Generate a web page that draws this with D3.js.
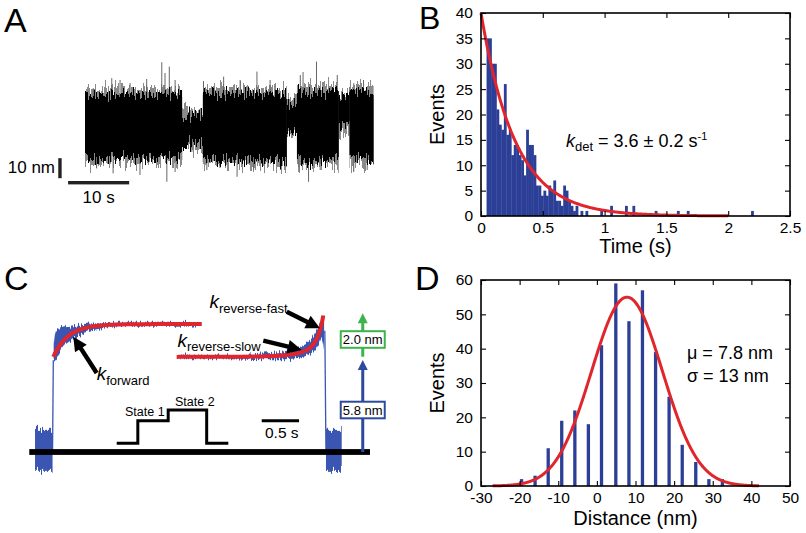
<!DOCTYPE html>
<html><head><meta charset="utf-8">
<script src="https://cdn.jsdelivr.net/npm/d3@7"></script>
<style>
html,body{margin:0;padding:0;background:#fff;}
svg{display:block;font-family:"Liberation Sans",Arial,Helvetica,sans-serif;}
</style></head><body>
<svg id="fig" width="806" height="533"></svg>
<script>
// ---------------- DATA ----------------
// Panel A: single-molecule trace, described by state segments (s, nm) and excursions
const aSegStart = [0, 15.85, 19.3, 33.0, 34.7, 41.5, 43.3];
const aSegEnd   = [15.85, 19.3, 33.0, 34.7, 41.5, 43.3, 47.2];
const aSegHi    = [16.5, 6, 17, 11.5, 18, 15, 17.5];
const aSegLo    = [-15.5, -8.5, -16.5, -2.5, -16.5, 0.5, -16.5];
const aSpikeT   = [1.36, 4.38, 5.74, 7.38, 10.1, 12.57, 13.1, 13.8, 14.75, 18.2, 19.4, 22.7, 25.4, 28.15, 30.3, 35.25, 35.7, 37.9, 41.3, 44.0, 45.6,
                   1.9, 4.6, 9.0, 13.4, 14.75, 17.5, 19.95, 22.1, 24.9, 27.6, 32.0, 35.0, 36.6, 38.5, 44.0, 46.2];
const aSpikeNm  = [19.4, 24.4, 23.5, 22, 24, 32.4, 27, 30.2, 23.5, 7.7, 23, 25.2, 23.5, 27.7, 23.5, 26, 27.5, 32.7, 26, 21.9, 23.5,
                   -20.7, -23.2, -24, -27.4, -22.5, -12.4, -21.5, -20.5, -24.9, -21.5, -21.5, -22.5, -27.4, -21.5, -22.5, -21.5];

// Panel B: detachment-time histogram (bin start in s, counts), bin width 0.02 s
const bBinWidth = 0.02;
const bStart = [0.045,0.065,0.085,0.105,0.125,0.145,0.165,0.185,0.205,0.225,
                0.245,0.265,0.285,0.305,0.325,0.345,0.365,0.385,0.405,0.425,
                0.445,0.465,0.485,0.505,0.525,0.545,0.565,0.585,0.605,0.625,
                0.645,0.665,0.685,0.705,0.725,0.745,0.765,0.805,0.845,0.965,
                1.045,1.165,1.225,1.405,1.585,1.665,2.185];
const bCount = [35,35,30,30,21,18,17,26,16,17,
                12,14,14,12,11,8,17,14,14,12,
                6,6,4,5,4,6,5,7,3,3,
                2,6,5,3,2,1,2,1,1,1,
                2,2,2,1,1,1,1];
const bFitAmp = 40, bFitRate = 3.6, bFitEnd = 2.0;
const bXTicks = [0, 0.5, 1, 1.5, 2, 2.5];
const bXTickLabels = ["0", "0.5", "1", "1.5", "2", "2.5"];
const bYTicks = [0, 5, 10, 15, 20, 25, 30, 35, 40];
const bYTickLabels = ["0", "5", "10", "15", "20", "25", "30", "35", "40"];

// Panel C: averaged traces (envelopes in nm vs s) and fits
const c1T  = [0.005, 0.03, 0.06, 0.1, 0.15, 0.25, 0.4, 0.6, 0.9, 1.3, 1.95];
const c1Lo = [5.5, 5.6, 5.8, 6.2, 6.5, 6.85, 7.25, 7.5, 7.68, 7.7, 7.72];
const c1Hi = [6.4, 7.3, 7.5, 7.55, 7.6, 7.65, 7.8, 7.85, 7.88, 7.88, 7.87];
const c2T  = [1.7, 2.4, 2.8, 3.1, 3.3, 3.45, 3.55, 3.6, 3.63];
const c2Lo = [5.72, 5.72, 5.66, 5.66, 5.75, 6.0, 6.5, 7.0, 6.2];
const c2Hi = [5.88, 5.9, 6.0, 6.15, 6.4, 6.85, 7.6, 8.1, 8.3];
const cBaseNoiseT = [[-0.245, -0.01], [3.655, 3.866]];
const cBaseNoiseNm = [-1.15, 1.35];
const cFwd = {level: 7.8, amp: 2.0, rate: 5, t0: 0, t1: 1.99};
const cRev = {level: 5.8, ampSlow: 0.8, rateSlow: 4, ampFast: 1.75, rateFast: 13, t0: 1.654, tEnd: 3.62};
const cStepT  = [0.85, 1.133, 1.133, 1.54, 1.54, 2.056, 2.056, 2.346];
const cStepNm = [0.53, 0.53, 1.9, 1.9, 2.56, 2.56, 0.53, 0.53];
const cStepLabels = ["State 1", "State 2"];
const cSizes = ["5.8 nm", "2.0 nm"];

// Panel D: distance histogram
const dCenters = [-19.5,-16.0,-12.6,-9.1,-5.7,-2.2,1.2,4.9,8.3,11.8,15.2,18.7,22.1,25.6,29.0,32.5];
const dCounts  = [2,3,11,19,22,18,41,59,48,57,39,26,12,7,2,2];
const dFit = {amp: 55, mu: 7.8, sigma: 9.2, from: -27, to: 42};
const dXTicks = [-30,-20,-10,0,10,20,30,40,50];
const dXTickLabels = ["-30","-20","-10","0","10","20","30","40","50"];
const dYTicks = [0,10,20,30,40,50,60];
const dYTickLabels = ["0","10","20","30","40","50","60"];

// ---------------- STYLE ----------------
const FONT = '"Liberation Sans", Arial, Helvetica, sans-serif';
const HBLUE = "#2c3f97", TBLUE = "#3a55b2", RED = "#e0262c", GREEN = "#3cb44b";

const svg = d3.select("#fig");
svg.append("rect").attr("width", 806).attr("height", 533).attr("fill", "#fff");
const defs = svg.append("defs");
function jag(id, freq, scale, seed) {
  const f = defs.append("filter").attr("id", id)
    .attr("x", "-5%").attr("y", "-60%").attr("width", "110%").attr("height", "220%")
    .attr("color-interpolation-filters", "sRGB");
  f.append("feTurbulence").attr("type", "fractalNoise").attr("baseFrequency", freq)
    .attr("numOctaves", 2).attr("seed", seed).attr("result", "n");
  f.append("feColorMatrix").attr("in", "n").attr("type", "matrix")
    .attr("values", "0 0 0 0 0.5  0 1 0 0 0  0 0 1 0 0  0 0 0 0 1").attr("result", "m");
  f.append("feDisplacementMap").attr("in", "SourceGraphic").attr("in2", "m")
    .attr("scale", scale).attr("xChannelSelector", "R").attr("yChannelSelector", "G");
}
jag("jagA", "0.75 0.002", 30, 7);
jag("jagA2", "0.6 0.002", 34, 19);
jag("jagC", "0.8 0.002", 9, 3);
jag("jagC2", "0.8 0.002", 22, 11);

function letter(t, x, y, fs) {
  svg.append("text").text(t).attr("x", x).attr("y", y).attr("font-size", fs)
    .attr("font-family", FONT).attr("fill", "#000");
}
letter("A", 4, 32, 34); letter("B", 419, 29, 32); letter("C", 4, 290, 34); letter("D", 415, 290, 34);

// ---------------- PANEL A ----------------
{
  const xA = d3.scaleLinear().domain([0, 47.2]).range([85, 373.3]);
  const yA = d3.scaleLinear().domain([0, 10]).range([127, 107]);
  const segs = d3.range(aSegStart.length).map(i => ({t0: aSegStart[i], t1: aSegEnd[i], hi: aSegHi[i], lo: aSegLo[i]}));
  const g = svg.append("g");
  g.append("g").attr("filter", "url(#jagA2)").selectAll("rect").data(segs).join("rect")
    .attr("x", d => xA(d.t0)).attr("width", d => xA(d.t1) - xA(d.t0) + 0.3)
    .attr("y", d => yA(d.hi + 2.5)).attr("height", d => yA(d.lo - 2.5) - yA(d.hi + 2.5))
    .attr("fill", "#8a8a8a");
  g.append("g").selectAll("line").data(d3.zip(aSpikeT, aSpikeNm)).join("line")
    .attr("x1", d => xA(d[0])).attr("x2", d => xA(d[0]))
    .attr("y1", yA(0)).attr("y2", d => yA(d[1]))
    .attr("stroke", "#666").attr("stroke-width", 1);
  g.append("g").attr("filter", "url(#jagA)").selectAll("rect").data(segs).join("rect")
    .attr("x", d => xA(d.t0)).attr("width", d => xA(d.t1) - xA(d.t0) + 0.3)
    .attr("y", d => yA(d.hi)).attr("height", d => yA(d.lo) - yA(d.hi))
    .attr("fill", "#000");
  // scale bars: 10 nm and 10 s
  g.append("rect").attr("x", xA(-4.1) - 1.7).attr("width", 3.4)
    .attr("y", yA(-15.6)).attr("height", yA(-25.6) - yA(-15.6)).attr("fill", "#222");
  g.append("rect").attr("x", xA(-2.77)).attr("width", xA(10) - xA(0))
    .attr("y", yA(-27.85) - 1.7).attr("height", 3.4).attr("fill", "#222");
  g.append("text").text("10 nm").attr("x", 55).attr("y", 173).attr("text-anchor", "end")
    .attr("font-size", 17).attr("font-family", FONT);
  g.append("text").text("10 s").attr("x", xA(2.23)).attr("y", 202.5).attr("text-anchor", "middle")
    .attr("font-size", 17).attr("font-family", FONT);
}

// ---------------- shared axes frame ----------------
function frameAxes(g, x, y, xt, xl, yt, yl) {
  const [x0, x1] = x.range(), [y0, y1] = y.range();
  const style = s => {
    s.select(".domain").remove();
    s.selectAll(".tick line").attr("stroke", "#000").attr("stroke-width", 1.1);
    s.selectAll(".tick text").attr("font-size", 15.5).attr("font-family", FONT).attr("fill", "#000");
  };
  g.append("g").attr("transform", `translate(0,${y0})`)
    .call(d3.axisBottom(x).tickValues(xt).tickSizeInner(-5).tickSizeOuter(0).tickPadding(5.5).tickFormat((d, i) => xl[i])).call(style);
  g.append("g").attr("transform", `translate(0,${y1})`)
    .call(d3.axisTop(x).tickValues(xt).tickSizeInner(-5).tickSizeOuter(0).tickFormat("")).call(style);
  g.append("g").attr("transform", `translate(${x0},0)`)
    .call(d3.axisLeft(y).tickValues(yt).tickSizeInner(-5).tickSizeOuter(0).tickPadding(8).tickFormat((d, i) => yl[i])).call(style);
  g.append("g").attr("transform", `translate(${x1},0)`)
    .call(d3.axisRight(y).tickValues(yt).tickSizeInner(-5).tickSizeOuter(0).tickFormat("")).call(style);
  g.append("rect").attr("x", x0).attr("y", y1).attr("width", x1 - x0).attr("height", y0 - y1)
    .attr("fill", "none").attr("stroke", "#000").attr("stroke-width", 1.6);
}

// ---------------- PANEL B ----------------
{
  const xB = d3.scaleLinear().domain([0, 2.5]).range([481, 790]);
  const yB = d3.scaleLinear().domain([0, 40]).range([216, 13]);
  const g = svg.append("g");
  const bw = xB(bBinWidth) - xB(0);
  g.append("g").selectAll("rect").data(d3.zip(bStart, bCount)).join("rect")
    .attr("x", d => xB(d[0])).attr("width", bw + 0.35)
    .attr("y", d => yB(d[1])).attr("height", d => yB(0) - yB(d[1]))
    .attr("fill", HBLUE);
  const fitPts = d3.range(0, bFitEnd + 1e-9, 0.005).map(t => [t, bFitAmp * Math.exp(-bFitRate * t)]);
  g.append("path").attr("d", d3.line().x(d => xB(d[0])).y(d => yB(d[1]))(fitPts))
    .attr("fill", "none").attr("stroke", RED).attr("stroke-width", 3);
  frameAxes(g, xB, yB, bXTicks, bXTickLabels, bYTicks, bYTickLabels);
  g.append("text").text("Events").attr("transform", "translate(444,114.5) rotate(-90)")
    .attr("text-anchor", "middle").attr("font-size", 20).attr("font-family", FONT);
  g.append("text").text("Time (s)").attr("x", 635.5).attr("y", 253)
    .attr("text-anchor", "middle").attr("font-size", 20).attr("font-family", FONT);
  const t = g.append("text").attr("x", 566).attr("y", 147).attr("font-size", 18).attr("font-family", FONT);
  t.append("tspan").text("k").attr("font-style", "italic");
  t.append("tspan").text("det").attr("font-size", 13).attr("dy", 4);
  t.append("tspan").text(" = 3.6 \u00B1 0.2 s").attr("dy", -4);
  t.append("tspan").text("-1").attr("font-size", 11).attr("dy", -7);
}

// ---------------- PANEL D ----------------
{
  const xD = d3.scaleLinear().domain([-30, 50]).range([481, 790]);
  const yD = d3.scaleLinear().domain([0, 60]).range([486, 280]);
  const g = svg.append("g");
  const barW = 3.3;
  g.append("g").selectAll("rect").data(d3.zip(dCenters, dCounts)).join("rect")
    .attr("x", d => xD(d[0]) - barW / 2).attr("width", barW)
    .attr("y", d => yD(d[1])).attr("height", d => yD(0) - yD(d[1]))
    .attr("fill", HBLUE);
  const gp = d3.range(dFit.from, dFit.to + 1e-9, 0.1)
    .map(x => [x, dFit.amp * Math.exp(-((x - dFit.mu) ** 2) / (2 * dFit.sigma ** 2))]);
  g.append("path").attr("d", d3.line().x(d => xD(d[0])).y(d => yD(d[1]))(gp))
    .attr("fill", "none").attr("stroke", RED).attr("stroke-width", 3);
  frameAxes(g, xD, yD, dXTicks, dXTickLabels, dYTicks, dYTickLabels);
  g.append("text").text("Events").attr("transform", "translate(444,383) rotate(-90)")
    .attr("text-anchor", "middle").attr("font-size", 20).attr("font-family", FONT);
  g.append("text").text("Distance (nm)").attr("x", 635.5).attr("y", 525)
    .attr("text-anchor", "middle").attr("font-size", 20).attr("font-family", FONT);
  g.append("text").text("\u03BC = 7.8 nm").attr("x", 687).attr("y", 359).attr("font-size", 18).attr("font-family", FONT);
  g.append("text").text("\u03C3 = 13 nm").attr("x", 687).attr("y", 382).attr("font-size", 18).attr("font-family", FONT);
}

// ---------------- PANEL C ----------------
{
  const xC = d3.scaleLinear().domain([0, 1]).range([53.3, 127.9]);
  const yC = d3.scaleLinear().domain([0, 10]).range([452, 288]);
  const g = svg.append("g");
  // baseline noise
  g.append("g").attr("filter", "url(#jagC2)").selectAll("rect").data(cBaseNoiseT).join("rect")
    .attr("x", d => xC(d[0])).attr("width", d => xC(d[1]) - xC(d[0]))
    .attr("y", yC(cBaseNoiseNm[1])).attr("height", yC(cBaseNoiseNm[0]) - yC(cBaseNoiseNm[1]))
    .attr("fill", TBLUE);
  // transitions
  g.append("line").attr("x1", xC(-0.01)).attr("x2", xC(0.0)).attr("y1", yC(0)).attr("y2", yC(5.6))
    .attr("stroke", TBLUE).attr("stroke-width", 1.3);
  g.append("line").attr("x1", xC(3.64)).attr("x2", xC(3.655)).attr("y1", yC(7.4)).attr("y2", yC(0))
    .attr("stroke", TBLUE).attr("stroke-width", 1.3);
  // trace envelopes
  const area = d3.area().x(d => xC(d[0])).y0(d => yC(d[1])).y1(d => yC(d[2])).curve(d3.curveMonotoneX);
  const ga = g.append("g").attr("filter", "url(#jagC)");
  ga.append("path").attr("d", area(d3.zip(c1T, c1Lo, c1Hi))).attr("fill", TBLUE);
  ga.append("path").attr("d", area(d3.zip(c2T, c2Lo, c2Hi))).attr("fill", TBLUE);
  // baseline bar
  g.append("rect").attr("x", xC(-0.322)).attr("width", xC(4.245) - xC(-0.322))
    .attr("y", yC(0) - 2.9).attr("height", 5.8).attr("fill", "#000");
  // fits
  const fwd = d3.range(cFwd.t0, cFwd.t1 + 1e-9, 0.005)
    .map(t => [t, cFwd.level - cFwd.amp * Math.exp(-cFwd.rate * (t - cFwd.t0))]);
  const rev = d3.range(cRev.t0, cRev.tEnd + 1e-9, 0.0025)
    .map(t => [t, cRev.level + cRev.ampSlow * Math.exp(cRev.rateSlow * (t - cRev.tEnd)) + cRev.ampFast * Math.exp(cRev.rateFast * (t - cRev.tEnd))]);
  const ln = d3.line().x(d => xC(d[0])).y(d => yC(d[1]));
  g.append("path").attr("d", ln(fwd)).attr("fill", "none").attr("stroke", RED).attr("stroke-width", 4);
  g.append("path").attr("d", ln(rev)).attr("fill", "none").attr("stroke", RED).attr("stroke-width", 4);

  function arrow(x1, y1, x2, y2, color, w, hl, hw) {
    const dx = x2 - x1, dy = y2 - y1, L = Math.hypot(dx, dy), ux = dx / L, uy = dy / L;
    const bx = x2 - ux * hl, by = y2 - uy * hl;
    g.append("line").attr("x1", x1).attr("y1", y1).attr("x2", bx + ux).attr("y2", by + uy)
      .attr("stroke", color).attr("stroke-width", w);
    g.append("path").attr("d", `M${x2},${y2}L${bx - uy * hw},${by + ux * hw}L${bx + uy * hw},${by - ux * hw}Z`).attr("fill", color);
  }
  arrow(xC(0.582), yC(4.82), xC(0.268), yC(7.03), "#000", 4.5, 14, 7);
  arrow(xC(3.129), yC(8.555), xC(3.575), yC(7.54), "#000", 4.5, 14, 7);
  arrow(xC(2.815), yC(6.79), xC(3.33), yC(6.22), "#000", 4.5, 14, 7);

  function kLabel(x, y, sub, dy) {
    const t = g.append("text").attr("x", x).attr("y", y).attr("font-family", FONT);
    t.append("tspan").text("k").attr("font-style", "italic").attr("font-size", 19);
    t.append("tspan").text(sub).attr("font-size", 13).attr("dy", dy);
  }
  kLabel(96.7, 380, "forward", 5);
  kLabel(177.5, 346.5, "reverse-slow", 4.5);
  kLabel(209.5, 308, "reverse-fast", 5);

  // state schematic
  g.append("path").attr("d", d3.line()(d3.zip(cStepT, cStepNm).map(d => [xC(d[0]), yC(d[1])])))
    .attr("fill", "none").attr("stroke", "#000").attr("stroke-width", 3).attr("stroke-linejoin", "miter");
  g.append("text").text(cStepLabels[0]).attr("x", 125).attr("y", 416).attr("font-size", 12.5).attr("font-family", FONT);
  g.append("text").text(cStepLabels[1]).attr("x", 175).attr("y", 406).attr("font-size", 12.5).attr("font-family", FONT);
  // 0.5 s scale bar
  g.append("line").attr("x1", xC(2.794)).attr("x2", xC(3.294)).attr("y1", yC(1.91)).attr("y2", yC(1.91))
    .attr("stroke", "#000").attr("stroke-width", 3);
  g.append("text").text("0.5 s").attr("x", 265).attr("y", 437.5).attr("font-size", 15.5).attr("font-family", FONT);

  // step-size arrows
  const xa = xC(4.148);
  arrow(xa, yC(0), xa, yC(5.61), "#2d4a9e", 3, 10, 5);
  arrow(xa, yC(5.81), xa, yC(8.46), GREEN, 3, 10, 5);
  const boxes = [{nm: 2.56, label: cSizes[0], c: "#2d4a9e"}, {nm: 6.86, label: cSizes[1], c: GREEN}];
  boxes.forEach(b => {
    g.append("rect").attr("x", xa - 22).attr("y", yC(b.nm) - 8.3).attr("width", 44).attr("height", 16.6)
      .attr("fill", "#fff").attr("stroke", b.c).attr("stroke-width", 2);
    g.append("text").text(b.label).attr("x", xa).attr("y", yC(b.nm) + 4.7).attr("text-anchor", "middle")
      .attr("font-size", 13).attr("font-family", FONT);
  });
}
</script>
</body></html>
